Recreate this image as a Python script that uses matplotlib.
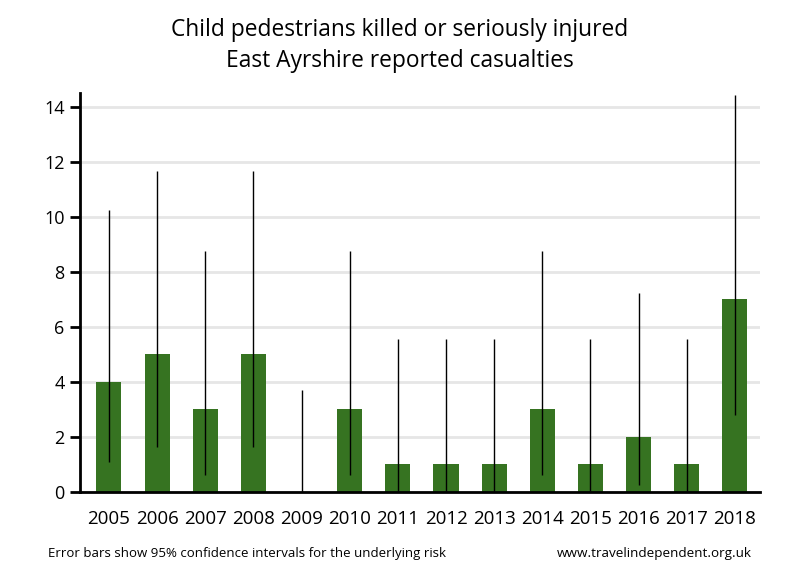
import matplotlib
matplotlib.use('Agg')
import matplotlib.pyplot as plt

# Child pedestrian KSI casualties, East Ayrshire
years = ['2005', '2006', '2007', '2008', '2009', '2010', '2011',
         '2012', '2013', '2014', '2015', '2016', '2017', '2018']
casualties = [4, 5, 3, 5, 0, 3, 1, 1, 1, 3, 1, 2, 1, 7]
# 95% confidence interval (lower, upper)
ci_low = [1.09, 1.62, 0.62, 1.62, 0.0, 0.62, 0.03, 0.03, 0.03, 0.62, 0.03, 0.24, 0.03, 2.81]
ci_high = [10.24, 11.67, 8.77, 11.67, 3.69, 8.77, 5.57, 5.57, 5.57, 8.77, 5.57, 7.22, 5.57, 14.42]

plt.rcParams['font.family'] = ['Open Sans', 'DejaVu Sans']

fig = plt.figure(figsize=(8, 5.8), dpi=100)
ax = fig.add_axes([0.1, 88 / 580, 0.85, (492 - 93) / 580])

x = list(range(len(years)))
ax.bar(x, casualties, width=0.52, color='#367321', zorder=2)
ax.vlines(x, ci_low, ci_high, color='black', linewidth=1, zorder=3)

ax.set_xlim(-0.6, len(years) - 1 + 0.52)
ax.set_ylim(0, 14.5)
ax.set_yticks([0, 2, 4, 6, 8, 10, 12, 14])
ax.set_xticks(x)
ax.set_xticklabels(years)
ax.yaxis.grid(True, color='#e6e6e6', linewidth=2, zorder=0)
ax.set_axisbelow(True)

for s in ['top', 'right']:
    ax.spines[s].set_visible(False)
ax.spines['left'].set_linewidth(2)
ax.spines['bottom'].set_linewidth(2)
ax.tick_params(axis='y', length=7, width=2, labelsize=13, pad=4)
ax.tick_params(axis='x', length=0, labelsize=13.5, pad=13)

fig.text(0.5, 1 - 30 / 580, 'Child pedestrians killed or seriously injured',
         ha='center', va='center', fontsize=16.4)
fig.text(0.5, 1 - 61 / 580, 'East Ayrshire reported casualties',
         ha='center', va='center', fontsize=16.4)
fig.text(48 / 800, 1 - 553 / 580, 'Error bars show 95% confidence intervals for the underlying risk',
         ha='left', va='center', fontsize=9.5)
fig.text(752 / 800, 1 - 553 / 580, 'www.travelindependent.org.uk',
         ha='right', va='center', fontsize=9.7)

fig.savefig('out.png', dpi=100)
